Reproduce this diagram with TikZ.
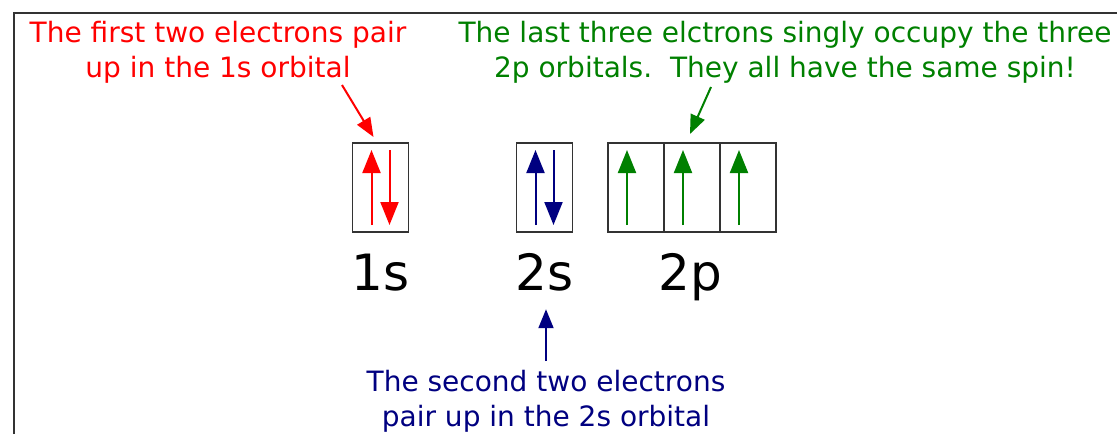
\documentclass[tikz,border=0pt]{standalone}
\usepackage{fontspec}
\setmainfont{DejaVu Sans}
\usetikzlibrary{positioning,arrows.meta}
\definecolor{navy}{RGB}{0,0,128}
\definecolor{leafgreen}{RGB}{0,128,0}
\tikzset{
  orbital/.style={draw=black!80, line width=1.8pt, minimum width=56pt, minimum height=89pt, inner sep=0pt, outer sep=0pt},
  spin/.style={line width=2pt, -{Triangle[length=23pt,width=18pt]}},
  pointer/.style={line width=2pt, -{Triangle[length=19pt,width=15pt]}},
  note/.style={align=center, font=\fontsize{28}{35}\selectfont},
  shell/.style={font=\fontsize{50}{60}\selectfont, anchor=base}
}
\begin{document}
\begin{tikzpicture}[x=1pt,y=-1pt]
\useasboundingbox (0,0) rectangle (1117,434);
\draw[line width=2pt, black!80] (14,434) -- (14,13) -- (1117,13);
% orbital boxes
\node[orbital] (b1s) at (380.5,187.5) {};
\node[orbital] (b2s) at (544.5,187.5) {};
\node[orbital] (b2pa) at (636,187.5) {};
\node[orbital, right=0pt of b2pa] (b2pb) {};
\node[orbital, right=0pt of b2pb] (b2pc) {};
% electrons
\draw[spin, red] ([xshift=-9pt,yshift=7pt]b1s.south) -- ([xshift=-9pt,yshift=-7pt]b1s.north);
\draw[spin, red] ([xshift=9pt,yshift=-7pt]b1s.north) -- ([xshift=9pt,yshift=7pt]b1s.south);
\draw[spin, navy] ([xshift=-9pt,yshift=7pt]b2s.south) -- ([xshift=-9pt,yshift=-7pt]b2s.north);
\draw[spin, navy] ([xshift=9pt,yshift=-7pt]b2s.north) -- ([xshift=9pt,yshift=7pt]b2s.south);
\foreach \b in {b2pa,b2pb,b2pc}
  \draw[spin, leafgreen] ([xshift=-9pt,yshift=7pt]\b.south) -- ([xshift=-9pt,yshift=-7pt]\b.north);
% shell labels
\node[shell] (l1s) at (380.5,290) {1s};
\node[shell] (l2s) at (544.5,290) {2s};
\node[shell] (l2p) at (690,290) {2p};
% notes
\node[note, red, anchor=base] (t1s) at (218,77) {The first two electrons pair\\up in the 1s orbital};
\node[note, leafgreen, anchor=base] (t2p) at (785,77) {The last three elctrons singly occupy the three\\2p orbitals.\ \ They all have the same spin!};
\node[note, navy, anchor=base] (t2s) at (546,426) {The second two electrons\\pair up in the 2s orbital};
\coordinate (a1s) at (342,85);
\coordinate (a2p) at (711,87);
\draw[pointer, red] (a1s) -- ([xshift=-7pt,yshift=6pt]b1s.north);
\draw[pointer, leafgreen] (a2p) -- ([xshift=-2pt,yshift=9pt]b2pb.north);
\draw[pointer, navy] ([yshift=5pt]t2s.north) -- ([yshift=-15pt]t2s.north |- l2s.south);
\end{tikzpicture}
\end{document}
